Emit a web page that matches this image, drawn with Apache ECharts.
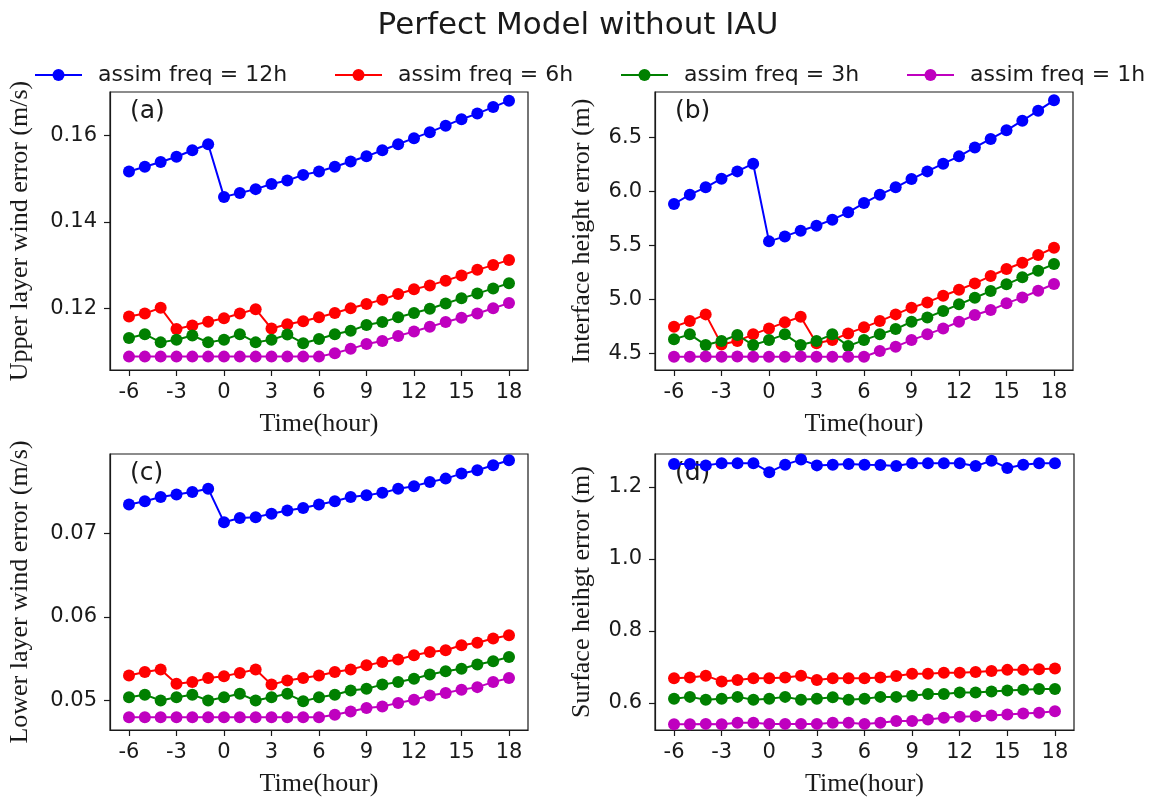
<!DOCTYPE html>
<html>
<head>
<meta charset="utf-8">
<script src="https://cdn.jsdelivr.net/npm/echarts@6/dist/echarts.min.js"></script>
<style>
  html, body { margin: 0; padding: 0; background: #ffffff; }
  #chart { width: 1156px; height: 798px; }
</style>
</head>
<body>
<div id="chart"></div>
<script>
// Forecast hour relative to analysis time
const hours = [-6, -5, -4, -3, -2, -1, 0, 1, 2, 3, 4, 5, 6, 7, 8, 9, 10, 11, 12, 13, 14, 15, 16, 17, 18];
const hourTicks = [-6, -3, 0, 3, 6, 9, 12, 15, 18];

const seriesNames = ['assim freq = 12h', 'assim freq = 6h', 'assim freq = 3h', 'assim freq = 1h'];

// (a) upper layer wind error (m/s)
const upperWind12h = [0.1517, 0.1528, 0.1539, 0.1551, 0.1566, 0.1580, 0.1458, 0.1467, 0.1476, 0.1488, 0.1496, 0.1509, 0.1517, 0.1528, 0.1540, 0.1552, 0.1566, 0.1580, 0.1594, 0.1608, 0.1623, 0.1638, 0.1651, 0.1666, 0.1681];
const upperWind6h  = [0.1181, 0.1188, 0.1201, 0.1152, 0.1160, 0.1169, 0.1177, 0.1188, 0.1198, 0.1153, 0.1163, 0.1170, 0.1179, 0.1189, 0.1200, 0.1210, 0.1220, 0.1233, 0.1244, 0.1253, 0.1264, 0.1276, 0.1289, 0.1300, 0.1312];
const upperWind3h  = [0.1131, 0.1140, 0.1121, 0.1127, 0.1137, 0.1121, 0.1127, 0.1140, 0.1121, 0.1127, 0.1139, 0.1119, 0.1129, 0.1140, 0.1148, 0.1161, 0.1168, 0.1179, 0.1189, 0.1199, 0.1211, 0.1223, 0.1234, 0.1246, 0.1258];
const upperWind1h  = [0.1088, 0.1088, 0.1088, 0.1088, 0.1088, 0.1088, 0.1088, 0.1088, 0.1088, 0.1088, 0.1088, 0.1088, 0.1088, 0.1096, 0.1106, 0.1117, 0.1124, 0.1136, 0.1146, 0.1157, 0.1168, 0.1178, 0.1188, 0.1200, 0.1212];

// (b) interface height error (m)
const interfaceHeight12h = [5.883, 5.969, 6.037, 6.117, 6.185, 6.256, 5.537, 5.583, 5.636, 5.682, 5.738, 5.806, 5.892, 5.969, 6.037, 6.114, 6.185, 6.256, 6.324, 6.407, 6.485, 6.565, 6.654, 6.747, 6.843];
const interfaceHeight6h  = [4.747, 4.799, 4.861, 4.583, 4.614, 4.676, 4.731, 4.787, 4.839, 4.593, 4.623, 4.685, 4.741, 4.799, 4.861, 4.923, 4.972, 5.034, 5.089, 5.148, 5.216, 5.281, 5.339, 5.410, 5.478];
const interfaceHeight3h  = [4.630, 4.676, 4.577, 4.614, 4.670, 4.577, 4.623, 4.676, 4.577, 4.614, 4.676, 4.568, 4.623, 4.676, 4.725, 4.793, 4.833, 4.892, 4.954, 5.015, 5.077, 5.139, 5.204, 5.265, 5.327];
const interfaceHeight1h  = [4.469, 4.469, 4.472, 4.469, 4.472, 4.469, 4.469, 4.469, 4.472, 4.469, 4.469, 4.469, 4.469, 4.522, 4.562, 4.623, 4.676, 4.731, 4.793, 4.855, 4.901, 4.963, 5.018, 5.080, 5.142];

// (c) lower layer wind error (m/s)
const lowerWind12h = [0.0734, 0.0738, 0.0743, 0.0746, 0.0749, 0.0753, 0.0713, 0.0718, 0.0719, 0.0723, 0.0727, 0.0730, 0.0734, 0.0738, 0.0743, 0.0745, 0.0748, 0.0753, 0.0756, 0.0761, 0.0765, 0.0771, 0.0775, 0.0781, 0.0787];
const lowerWind6h  = [0.0530, 0.0534, 0.0537, 0.0520, 0.0522, 0.0527, 0.0529, 0.0533, 0.0537, 0.0519, 0.0524, 0.0527, 0.0530, 0.0534, 0.0537, 0.0542, 0.0546, 0.0549, 0.0554, 0.0558, 0.0560, 0.0566, 0.0569, 0.0574, 0.0578];
const lowerWind3h  = [0.0504, 0.0507, 0.0500, 0.0504, 0.0507, 0.0500, 0.0504, 0.0508, 0.0500, 0.0504, 0.0508, 0.0499, 0.0504, 0.0507, 0.0512, 0.0514, 0.0519, 0.0522, 0.0526, 0.0531, 0.0535, 0.0538, 0.0543, 0.0547, 0.0552];
const lowerWind1h  = [0.0480, 0.0480, 0.0480, 0.0480, 0.0480, 0.0480, 0.0480, 0.0480, 0.0480, 0.0480, 0.0480, 0.0480, 0.0480, 0.0483, 0.0487, 0.0491, 0.0493, 0.0497, 0.0501, 0.0506, 0.0509, 0.0513, 0.0516, 0.0522, 0.0527];

// (d) surface height error (m)
const surfaceHeight12h = [1.264, 1.264, 1.260, 1.266, 1.266, 1.266, 1.241, 1.262, 1.276, 1.260, 1.262, 1.264, 1.262, 1.261, 1.258, 1.266, 1.266, 1.266, 1.266, 1.258, 1.273, 1.253, 1.262, 1.266, 1.266];
const surfaceHeight6h  = [0.669, 0.671, 0.676, 0.660, 0.664, 0.669, 0.669, 0.671, 0.676, 0.664, 0.669, 0.669, 0.669, 0.671, 0.675, 0.681, 0.681, 0.684, 0.684, 0.686, 0.689, 0.692, 0.692, 0.694, 0.696];
const surfaceHeight3h  = [0.612, 0.617, 0.609, 0.612, 0.617, 0.609, 0.612, 0.617, 0.609, 0.612, 0.616, 0.609, 0.612, 0.617, 0.617, 0.620, 0.625, 0.625, 0.629, 0.629, 0.632, 0.635, 0.637, 0.639, 0.639];
const surfaceHeight1h  = [0.541, 0.541, 0.542, 0.541, 0.545, 0.545, 0.542, 0.542, 0.542, 0.542, 0.545, 0.545, 0.542, 0.545, 0.550, 0.550, 0.554, 0.559, 0.562, 0.563, 0.565, 0.568, 0.571, 0.573, 0.577];

const yTicksA = [0.12, 0.14, 0.16];
const yTicksB = [4.5, 5.0, 5.5, 6.0, 6.5];
const yTicksC = [0.05, 0.06, 0.07];
const yTicksD = [0.6, 0.8, 1.0, 1.2];

const colors = ['#0000ff', '#ff0000', '#008000', '#bf00bf'];
const SANS = 'DejaVu Sans';
const SERIF = 'Liberation Serif';
const INK = '#1a1a1a';

const panels = [
  { tag: '(a)', yName: 'Upper layer wind error (m/s)', yMin: 0.1057, yMax: 0.1701, ticks: yTicksA, digits: 2,
    data: [upperWind12h, upperWind6h, upperWind3h, upperWind1h],
    grid: { left: 110, top: 92, width: 418, height: 278 }, nameGap: 77 },
  { tag: '(b)', yName: 'Interface height error (m)', yMin: 4.346, yMax: 6.92, ticks: yTicksB, digits: 1,
    data: [interfaceHeight12h, interfaceHeight6h, interfaceHeight3h, interfaceHeight1h],
    grid: { left: 655, top: 92, width: 418, height: 278 }, nameGap: 60 },
  { tag: '(c)', yName: 'Lower layer wind error (m/s)', yMin: 0.04648, yMax: 0.07944, ticks: yTicksC, digits: 2,
    data: [lowerWind12h, lowerWind6h, lowerWind3h, lowerWind1h],
    grid: { left: 110, top: 454, width: 418, height: 278 }, nameGap: 77 },
  { tag: '(d)', yName: 'Surface heihgt error (m)', yMin: 0.525, yMax: 1.2916, ticks: yTicksD, digits: 1,
    data: [surfaceHeight12h, surfaceHeight6h, surfaceHeight3h, surfaceHeight1h],
    grid: { left: 655, top: 454, width: 419, height: 278 }, nameGap: 60 }
];

const grids = [], xAxes = [], yAxes = [], series = [], graphics = [];

panels.forEach((p, i) => {
  grids.push(Object.assign({ show: true, borderColor: INK, borderWidth: 1.2, backgroundColor: 'transparent' }, p.grid));

  xAxes.push({
    type: 'value', gridIndex: i, min: -7.2, max: 19.2,
    name: 'Time(hour)', nameLocation: 'middle', nameGap: 41,
    nameTextStyle: { fontFamily: SERIF, fontSize: 26, color: INK },
    axisLine: { show: true, onZero: false, lineStyle: { color: INK, width: 1.2 } },
    axisTick: { show: true, length: 6, customValues: hourTicks, lineStyle: { color: INK, width: 1.2 } },
    axisLabel: { customValues: hourTicks, fontFamily: SANS, fontSize: 21, color: INK, margin: 12,
      formatter: v => String(v) },
    splitLine: { show: false }
  });

  yAxes.push({
    type: 'value', gridIndex: i, min: p.yMin, max: p.yMax,
    name: p.yName, nameLocation: 'middle', nameGap: p.nameGap,
    nameTextStyle: { fontFamily: SERIF, fontSize: 26, color: INK },
    axisLine: { show: true, onZero: false, lineStyle: { color: INK, width: 1.2 } },
    axisTick: { show: true, length: 6, customValues: p.ticks, lineStyle: { color: INK, width: 1.2 } },
    axisLabel: { customValues: p.ticks, fontFamily: SANS, fontSize: 21, color: INK, margin: 13,
      formatter: v => Number(v).toFixed(p.digits) },
    splitLine: { show: false }
  });

  p.data.forEach((vals, k) => {
    series.push({
      name: seriesNames[k], type: 'line', xAxisIndex: i, yAxisIndex: i,
      data: hours.map((h, j) => [h, vals[j]]),
      symbol: 'circle', symbolSize: 12, showSymbol: true,
      lineStyle: { color: colors[k], width: 2 },
      itemStyle: { color: colors[k] },
      emphasis: { disabled: true },
      animation: false, z: 3 + k
    });
  });

  graphics.push({
    type: 'text', left: p.grid.left + 20, top: p.grid.top + 7, z: 1,
    style: { text: p.tag, font: '25px "DejaVu Sans"', fill: INK }
  });
});

// One legend per entry so each column sits where it should
const legendLefts = [34, 334, 620, 906];
const legends = seriesNames.map((n, k) => ({
  data: [n], left: legendLefts[k], top: 64, padding: 0,
  itemWidth: 47, itemHeight: 15,
  textStyle: { fontFamily: SANS, fontSize: 22, color: INK, padding: [0, 0, 0, 11] },
  selectedMode: false
}));

const chart = echarts.init(document.getElementById('chart'), null, { renderer: 'canvas' });
chart.setOption({
  animation: false,
  backgroundColor: '#ffffff',
  title: {
    text: 'Perfect Model without IAU', left: 'center', top: 5,
    textStyle: { fontFamily: SANS, fontSize: 31, fontWeight: 'normal', color: INK }
  },
  legend: legends,
  grid: grids,
  xAxis: xAxes,
  yAxis: yAxes,
  series: series,
  graphic: graphics
});
</script>
</body>
</html>
